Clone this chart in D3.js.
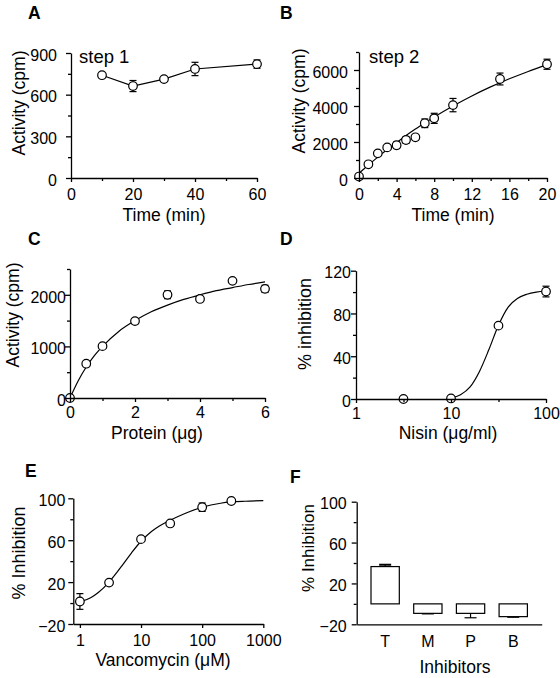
<!DOCTYPE html>
<html><head><meta charset="utf-8">
<script src="https://cdn.jsdelivr.net/npm/d3@7"></script>
<style>
body{margin:0;background:#fff}
svg{display:block}
text{font-family:"Liberation Sans",Arial,sans-serif;fill:#000}
</style>
</head><body><svg id="c" width="560" height="678"></svg>
<script>
// ---------- DATA ----------
// Panel A
const aTime=[10,20,30,40,60];
const aActivity=[740,662,712,785,820];
const aSem=[0,40,0,48,30];
const aXTicks=[0,20,40,60], aXMinor=[10,30,50];
const aYTicks=[0,300,600,900], aYMinor=[150,450,750];
// Panel B
const bTime=[0,1,2,3,4,5,6,7,8,10,15,20];
const bActivity=[80,760,1370,1700,1820,2110,2260,3040,3315,4050,5500,6320];
const bSem=[0,0,0,0,180,180,0,240,280,370,330,280];
const bFitTime=[0,1,2,3,4,5,6,7,8,10,12,14,16,18,20];
const bFitActivity=[260,720,1160,1580,1970,2360,2720,3060,3390,4000,4560,5060,5510,5920,6300];
const bXTicks=[0,4,8,12,16,20], bXMinor=[2,6,10,14,18];
const bYTicks=[0,2000,4000,6000], bYMinor=[1000,3000,5000,7000];
// Panel C
const cProtein=[0,0.5,1,2,3,4,5,6];
const cActivity=[0,665,1005,1490,2000,1920,2270,2115];
const cSem=[0,0,0,50,75,0,0,70];
const cFitProtein=[0,0.25,0.5,0.75,1,1.5,2,2.5,3,3.5,4,4.5,5,5.5,6];
const cFitActivity=[0,330,600,820,1000,1290,1500,1670,1800,1910,2000,2080,2140,2200,2250];
const cXTicks=[0,2,4,6], cXMinor=[1,3,5];
const cYTicks=[0,1000,2000], cYMinor=[500,1500,2500];
// Panel D
const dNisin=[3.16,10,31.6,100];
const dInhibition=[0,0.5,68.6,100.5];
const dSem=[0,0,0,5];
const dFitNisin=[10,12.6,15.8,20,25,31.6,40,50,63,79,100];
const dFitInhibition=[1,4,11,26,46,69,86,94,98,100,101];
const dXTicks=[1,10,100], dXMinor=[3.162,31.62];
const dYTicks=[0,40,80,120], dYMinor=[20,60,100];
// Panel E
const eVanco=[1,3,10,30,100,300];
const eInhibition=[1.5,19.5,61,76,91.5,97.4];
const eSem=[7.5,0,0,0,4,0];
const eFitVanco=[1,1.5,2,3,4,5,7,10,15,20,30,50,100,200,300,500,1000];
const eFitInhibition=[1,5,10,20,29,36.5,48,59,68.5,73.5,79,85,91.5,95.3,96.5,97.2,97.7];
const eXTicks=[1,10,100,1000];
const eYTicks=[-20,20,60,100], eYMinor=[0,40,80];
// Panel F
const fInhibitors=["T","M","P","B"];
const fInhibition=[36.5,-9.3,-9.3,-12.5];
const fSem=[1.8,0.5,4.3,0.6];
const fYTicks=[-20,20,60,100], fYMinor=[0,40,80];

// ---------- DRAWING ----------
const svg=d3.select("#c");
const FONT='"Liberation Sans",Arial,sans-serif';

function text(x,y,s,o={}){
  const t=svg.append("text").attr("x",x).attr("y",y).text(s)
    .attr("font-size",o.size||16).attr("text-anchor",o.anchor||"start");
  if(o.bold) t.attr("font-weight","bold");
  return t;
}
function ytitle(cx,cy,s,size){
  svg.append("text").attr("transform",`translate(${cx},${cy}) rotate(-90)`)
    .attr("text-anchor","middle").attr("dy","0.35em").attr("font-size",size||17.5).text(s);
}
function styleAxis(g){
  g.attr("font-size",16).attr("font-family",FONT);
  g.selectAll(".domain,.tick line").attr("stroke","#000").attr("stroke-width",1.3);
  g.selectAll(".tick text").attr("fill","#000");
}
function axes(o){
  const y0=o.y.range()[0], x0=o.x.range()[0];
  const gx=svg.append("g").attr("transform",`translate(0,${y0})`);
  gx.call(d3.axisBottom(o.x).tickValues(o.xTicks).tickFormat(o.xFmt||d3.format("d"))
    .tickSize(4).tickSizeOuter(0).tickPadding(o.xPad==null?7:o.xPad));
  if(o.xMinor){
    const m=gx.append("g").call(d3.axisBottom(o.x).tickValues(o.xMinor).tickFormat("").tickSize(3).tickSizeOuter(0));
    m.select(".domain").remove();
  }
  styleAxis(gx);
  const gy=svg.append("g").attr("transform",`translate(${x0},0)`);
  gy.call(d3.axisLeft(o.y).tickValues(o.yTicks).tickFormat(d3.format("d"))
    .tickSize(5).tickSizeOuter(0).tickPadding(o.yPad));
  gy.selectAll(".tick text").attr("dy","0.45em");
  if(o.yMinor){
    const m=gy.append("g").call(d3.axisLeft(o.y).tickValues(o.yMinor).tickFormat("").tickSize(3).tickSizeOuter(0));
    m.select(".domain").remove();
  }
  styleAxis(gy);
}
function curve(x,y,xs,ys,linear){
  const pts=xs.map((v,i)=>[v,ys[i]]);
  svg.append("path").datum(pts)
    .attr("d",d3.line().x(d=>x(d[0])).y(d=>y(d[1])).curve(linear?d3.curveLinear:d3.curveMonotoneX))
    .attr("fill","none").attr("stroke","#000").attr("stroke-width",1.2);
}
function points(x,y,xs,ys,es){
  const g=svg.append("g").attr("stroke","#000").attr("stroke-width",1.2);
  xs.forEach((v,i)=>{
    const e=es[i];
    if(e>0){
      const cx=x(v), a=y(ys[i]+e), b=y(ys[i]-e);
      g.append("line").attr("x1",cx).attr("x2",cx).attr("y1",a).attr("y2",b);
      g.append("line").attr("x1",cx-3.5).attr("x2",cx+3.5).attr("y1",a).attr("y2",a);
      g.append("line").attr("x1",cx-3.5).attr("x2",cx+3.5).attr("y1",b).attr("y2",b);
    }
  });
  xs.forEach((v,i)=>{
    g.append("circle").attr("cx",x(v)).attr("cy",y(ys[i])).attr("r",4.3).attr("fill","#fff");
  });
}

// Panel A
{
  const x=d3.scaleLinear().domain([0,60]).range([71,257]);
  const y=d3.scaleLinear().domain([0,900]).range([178,53]);
  curve(x,y,aTime,aActivity,true);
  points(x,y,aTime,aActivity,aSem);
  axes({x,y,xTicks:aXTicks,xMinor:aXMinor,yTicks:aYTicks,yMinor:aYMinor,yPad:9});
  text(28,18.5,"A",{size:17.5,bold:true});
  text(79,63,"step 1",{size:18.5});
  text(164,221,"Time (min)",{size:17.5,anchor:"middle"});
  ytitle(19,103,"Activity (cpm)");
}
// Panel B
{
  const x=d3.scaleLinear().domain([0,20]).range([359,547]);
  const y=d3.scaleLinear().domain([0,7000]).range([178,52]);
  curve(x,y,bFitTime,bFitActivity);
  points(x,y,bTime,bActivity,bSem);
  axes({x,y,xTicks:bXTicks,xMinor:bXMinor,yTicks:bYTicks,yMinor:bYMinor,yPad:6});
  text(280,18.5,"B",{size:17.5,bold:true});
  text(369,63,"step 2",{size:18.5});
  text(453,221,"Time (min)",{size:17.5,anchor:"middle"});
  ytitle(299,101,"Activity (cpm)");
}
// Panel C
{
  const x=d3.scaleLinear().domain([0,6]).range([70,265]);
  const y=d3.scaleLinear().domain([0,2500]).range([398,269]);
  curve(x,y,cFitProtein,cFitActivity);
  points(x,y,cProtein,cActivity,cSem);
  axes({x,y,xTicks:cXTicks,xMinor:cXMinor,yTicks:cYTicks,yMinor:cYMinor,yPad:-1,xPad:5});
  text(28,245,"C",{size:17.5,bold:true});
  text(157,439,"Protein (μg)",{size:17.5,anchor:"middle"});
  ytitle(13,315,"Activity (cpm)");
}
// Panel D
{
  const x=d3.scaleLog().domain([1,100]).range([356,546]);
  const y=d3.scaleLinear().domain([0,120]).range([399,270.7]);
  curve(x,y,dFitNisin,dFitInhibition);
  points(x,y,dNisin,dInhibition,dSem);
  axes({x,y,xTicks:dXTicks,xMinor:dXMinor,yTicks:dYTicks,yMinor:dYMinor,yPad:0,xPad:5});
  text(280,245,"D",{size:17.5,bold:true});
  text(448,439,"Nisin (μg/ml)",{size:17.5,anchor:"middle"});
  ytitle(305,324,"% inhibition",18);
}
// Panel E
{
  const x=d3.scaleLog().domain([0.78,1000]).range([73.3,263.3]);
  const y=d3.scaleLinear().domain([-20,100]).range([624,498.3]);
  curve(x,y,eFitVanco,eFitInhibition);
  points(x,y,eVanco,eInhibition,eSem);
  axes({x,y,xTicks:eXTicks,yTicks:eYTicks,yMinor:eYMinor,yPad:3});
  text(25,476.5,"E",{size:17.5,bold:true});
  text(163,666,"Vancomycin (μM)",{size:17.5,anchor:"middle"});
  ytitle(18.5,553,"% Inhibition",18);
}
// Panel F
{
  const x=d3.scaleBand().domain(fInhibitors).range([356.7,541.7]).paddingInner(0.337).paddingOuter(0.335);
  const y=d3.scaleLinear().domain([-20,100]).range([624.3,501.7]);
  const g=svg.append("g").attr("stroke","#000").attr("stroke-width",1.2);
  fInhibitors.forEach((c,i)=>{
    const v=fInhibition[i], e=fSem[i];
    const cx=x(c)+x.bandwidth()/2;
    const tip=v>=0?v+e:v-e;
    g.append("line").attr("x1",cx).attr("x2",cx).attr("y1",y(v)).attr("y2",y(tip));
    g.append("line").attr("x1",cx-6).attr("x2",cx+6).attr("y1",y(tip)).attr("y2",y(tip)).attr("stroke-width",i===0?2:1.2);
    g.append("rect").attr("x",x(c)).attr("width",x.bandwidth())
      .attr("y",y(Math.max(0,v))).attr("height",Math.abs(y(v)-y(0))).attr("fill","#fff");
  });
  const gx=svg.append("g").attr("transform",`translate(0,${y.range()[0]})`);
  gx.call(d3.axisBottom(x).tickSize(0).tickSizeOuter(0).tickPadding(11));
  styleAxis(gx);
  const gy=svg.append("g").attr("transform",`translate(${x.range()[0]},0)`);
  gy.call(d3.axisLeft(y).tickValues(fYTicks).tickFormat(d3.format("d")).tickSize(5).tickSizeOuter(0).tickPadding(5));
  gy.selectAll(".tick text").attr("dy","0.45em");
  const m=gy.append("g").call(d3.axisLeft(y).tickValues(fYMinor).tickFormat("").tickSize(3).tickSizeOuter(0));
  m.select(".domain").remove();
  styleAxis(gy);
  text(290,483,"F",{size:17.5,bold:true});
  text(455,673,"Inhibitors",{size:17.5,anchor:"middle"});
  ytitle(308.5,548,"% Inhibition",17);
}
</script></body></html>
